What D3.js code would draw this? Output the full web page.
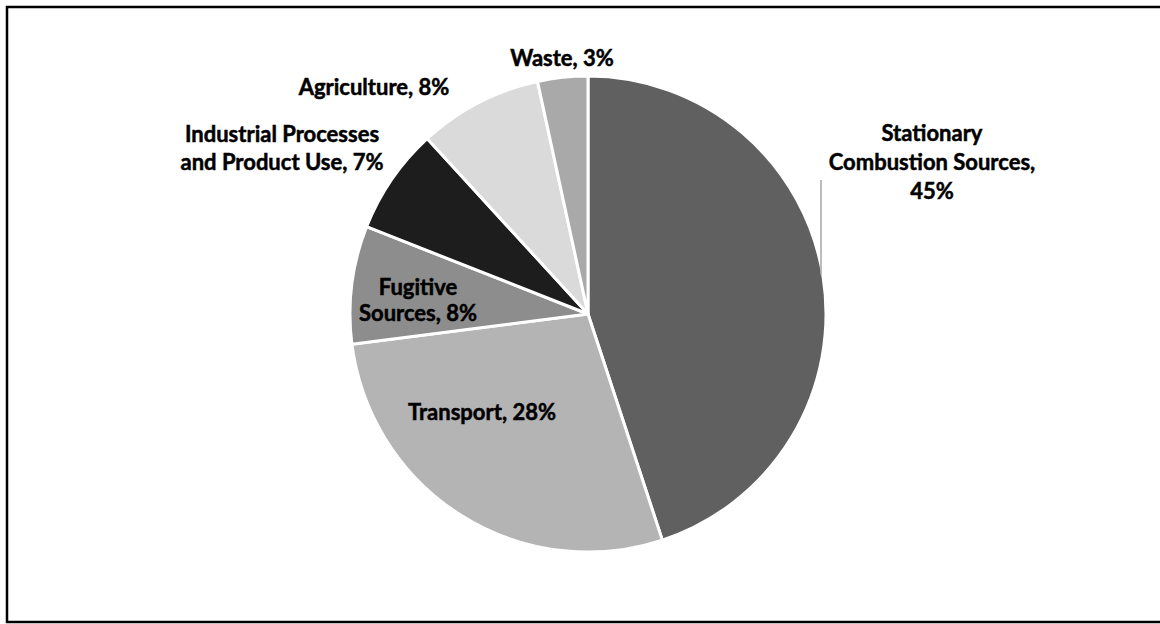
<!DOCTYPE html>
<html>
<head>
<meta charset="utf-8">
<script src="https://cdn.jsdelivr.net/npm/d3@7"></script>
<style>
  html, body { margin: 0; padding: 0; background: #fff; }
  svg { display: block; }
  .lbl { font-family: Lato, "Open Sans", sans-serif; font-weight: 700; font-size: 22px; fill: #000; stroke: #000; stroke-width: 0.5px; letter-spacing: 0px; }
</style>
</head>
<body>
<svg id="chart" width="1160" height="624"></svg>
<script>
// Greenhouse gas emissions by sector (share of total, %)
const categories = [
  "Stationary Combustion Sources",
  "Transport",
  "Fugitive Sources",
  "Industrial Processes and Product Use",
  "Agriculture",
  "Waste"
];
const shares = [44.9, 28.0, 8.0, 7.2, 8.4, 3.4];
const sliceColors = ["#606060", "#b4b4b4", "#8d8d8d", "#1d1d1d", "#dadada", "#a9a9a9"];
// Category names split into lines as printed; the rounded share is appended to the last line
const nameLines = [
  ["Stationary", "Combustion Sources,", ""],
  ["Transport, "],
  ["Fugitive", "Sources, "],
  ["Industrial Processes", "and Product Use, "],
  ["Agriculture, "],
  ["Waste, "]
];

const svg = d3.select("#chart");
const W = 1160;

// outer frame
svg.append("rect")
  .attr("x", 7).attr("y", 7)
  .attr("width", W + 10).attr("height", 615)
  .attr("fill", "none").attr("stroke", "#000").attr("stroke-width", 2.5);

const cx = 588, cy = 314, R = 238;
const g = svg.append("g").attr("transform", `translate(${cx},${cy})`);

const total = d3.sum(shares);
const data = categories.map((c, i) => ({ name: c, value: shares[i], color: sliceColors[i], lines: nameLines[i] }));

const pie = d3.pie().sort(null).value(d => d.value);
const arcs = pie(data);
const arc = d3.arc().innerRadius(0).outerRadius(R);

g.selectAll("path.slice")
  .data(arcs)
  .join("path")
  .attr("class", "slice")
  .attr("d", arc)
  .attr("fill", d => d.data.color)
  .attr("stroke", "#fff")
  .attr("stroke-width", 3)
  .attr("stroke-linejoin", "round");

// label anchors relative to the pie centre, and line spacing per label
const labelAnchor = [
  [344, -152], [-106, 98], [-170, -14], [-306, -166], [-214, -227], [-26, -256]
];
const labelLineH = [29, 29, 26, 28, 29, 29];
const pct = v => Math.round(v / total * 100) + "%";

arcs.forEach((a, i) => {
  const [x, y] = labelAnchor[i];
  const lines = a.data.lines.slice();
  lines[lines.length - 1] += pct(a.data.value);
  const n = lines.length;
  const lh = labelLineH[i];
  const t = g.append("text")
    .attr("class", "lbl")
    .attr("text-anchor", "middle")
    .attr("transform", `translate(${x},${y})`);
  lines.forEach((ln, k) => {
    t.append("tspan")
      .attr("x", 0)
      .attr("y", (k - (n - 1) / 2) * lh)
      .attr("dy", "0.35em")
      .text(ln);
  });
});

// leader line for the largest slice label
svg.append("line")
  .attr("x1", cx + 233).attr("x2", cx + 233)
  .attr("y1", cy - 134).attr("y2", cy - 39)
  .attr("stroke", "#a6a6a6").attr("stroke-width", 1.5);
</script>
</body>
</html>
